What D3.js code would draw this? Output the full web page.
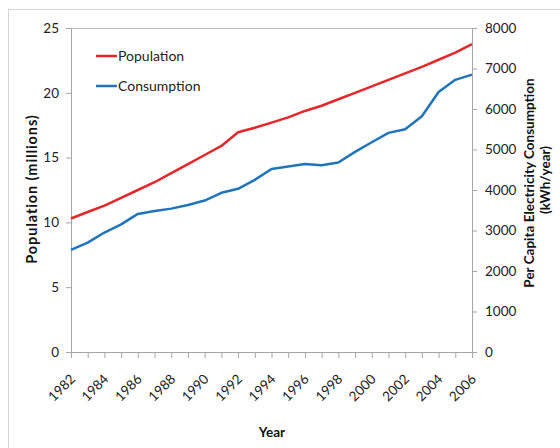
<!DOCTYPE html>
<html>
<head>
<meta charset="utf-8">
<script src="https://cdn.jsdelivr.net/npm/d3@7"></script>
<style>
  body { margin: 0; background: #fff; }
  svg { display: block; font-family: Lato, "Open Sans", sans-serif; }
  .tick text { fill: #222; }
</style>
</head>
<body>
<svg id="chart" width="560" height="448"></svg>
<script>
// ---- data ----
const years = d3.range(1982, 2007);
const population = [10.3, 10.8, 11.3, 11.9, 12.5, 13.1, 13.8, 14.5, 15.2, 15.9, 16.95, 17.3,
  17.7, 18.1, 18.6, 19.0, 19.5, 20.0, 20.5, 21.0, 21.5, 22.0, 22.55, 23.1, 23.75];
const consumption = [2520, 2700, 2950, 3150, 3410, 3480, 3540, 3630, 3740, 3930, 4030, 4250,
  4520, 4580, 4640, 4610, 4680, 4940, 5180, 5410, 5500, 5820, 6420, 6720, 6850];
const popTicks = [0, 5, 10, 15, 20, 25];
const consTicks = [0, 1000, 2000, 3000, 4000, 5000, 6000, 7000, 8000];
const yearLabels = d3.range(1982, 2007, 2);
const series = [
  { name: 'Population', values: population, color: '#e5262b', axis: 'left' },
  { name: 'Consumption', values: consumption, color: '#1f74bb', axis: 'right' }
];

// ---- layout ----
const svg = d3.select('#chart');
const plot = { left: 71, right: 472, top: 28, bottom: 352 };

const x = d3.scaleLinear().domain([1982, 2006]).range([plot.left, plot.right]);
const yL = d3.scaleLinear().domain([0, 25]).range([plot.bottom, plot.top]);
const yR = d3.scaleLinear().domain([0, 8000]).range([plot.bottom, plot.top]);

// outer frame (runs off the canvas on the right and bottom)
svg.append('rect')
  .attr('x', 8.5).attr('y', 9.5)
  .attr('width', 600).attr('height', 500)
  .attr('fill', 'none')
  .attr('stroke', '#d4d4d4');

// plot area top border
svg.append('line')
  .attr('x1', plot.left).attr('x2', plot.right)
  .attr('y1', plot.top + 0.5).attr('y2', plot.top + 0.5)
  .attr('stroke', '#bdbdbd');

// ---- axes ----
const axisColor = '#a6a6a6';

const xAxis = svg.append('g')
  .attr('transform', `translate(0,${plot.bottom})`)
  .call(d3.axisBottom(x).tickValues(years).tickSize(6).tickFormat(''));

svg.append('g')
  .attr('class', 'xlabels')
  .selectAll('text')
  .data(yearLabels)
  .enter()
  .append('text')
  .attr('transform', d => `translate(${x(d) + 5},${plot.bottom + 28}) rotate(-45)`)
  .attr('text-anchor', 'end')
  .attr('font-size', 13.5)
  .attr('fill', '#222')
  .text(d => d);

const leftAxis = svg.append('g')
  .attr('transform', `translate(${plot.left},0)`)
  .call(d3.axisLeft(yL).tickValues(popTicks).tickSize(5).tickPadding(7));

const rightAxis = svg.append('g')
  .attr('transform', `translate(${plot.right},0)`)
  .call(d3.axisRight(yR).tickValues(consTicks).tickSize(5).tickPadding(8).tickFormat(d3.format('d')));

[xAxis, leftAxis, rightAxis].forEach(a => {
  a.select('.domain').attr('stroke', axisColor);
  a.selectAll('.tick line').attr('stroke', axisColor);
  a.selectAll('.tick text').attr('font-size', 13.5).attr('font-family', 'Lato, sans-serif');
});

// ---- lines ----
series.forEach(s => {
  const yScale = s.axis === 'left' ? yL : yR;
  const line = d3.line()
    .x((d, i) => x(years[i]))
    .y(d => yScale(d));
  svg.append('path')
    .datum(s.values)
    .attr('fill', 'none')
    .attr('stroke', s.color)
    .attr('stroke-width', 2.5)
    .attr('stroke-linejoin', 'round')
    .attr('d', line);
});

// ---- legend ----
const legend = svg.append('g')
  .selectAll('g')
  .data(series)
  .enter()
  .append('g')
  .attr('transform', (d, i) => `translate(96,${56 + i * 30})`);

legend.append('line')
  .attr('x1', 0).attr('x2', 21)
  .attr('stroke', d => d.color)
  .attr('stroke-width', 2.5);

legend.append('text')
  .attr('x', 22).attr('y', 5)
  .attr('font-size', 14)
  .attr('fill', '#222')
  .text(d => d.name);

// ---- axis titles ----
svg.append('text')
  .attr('transform', `translate(37,189) rotate(-90)`)
  .attr('text-anchor', 'middle')
  .attr('font-size', 14.5)
  .attr('letter-spacing', 0.9)
  .attr('font-weight', 'bold')
  .attr('fill', '#111')
  .text('Population (millions)');

const rTitle = svg.append('text')
  .attr('transform', `translate(534,183) rotate(-90)`)
  .attr('text-anchor', 'middle')
  .attr('font-size', 13.5)
  .attr('font-weight', 'bold')
  .attr('fill', '#111');
rTitle.append('tspan').attr('x', 0).attr('dy', 0).text('Per Capita Electricity Consumption');
rTitle.append('tspan').attr('x', 3).attr('dy', 16).text('(kWh/year)');

svg.append('text')
  .attr('x', 272).attr('y', 437)
  .attr('text-anchor', 'middle')
  .attr('font-size', 13.5)
  .attr('font-weight', 'bold')
  .attr('fill', '#111')
  .text('Year');
</script>
</body>
</html>
